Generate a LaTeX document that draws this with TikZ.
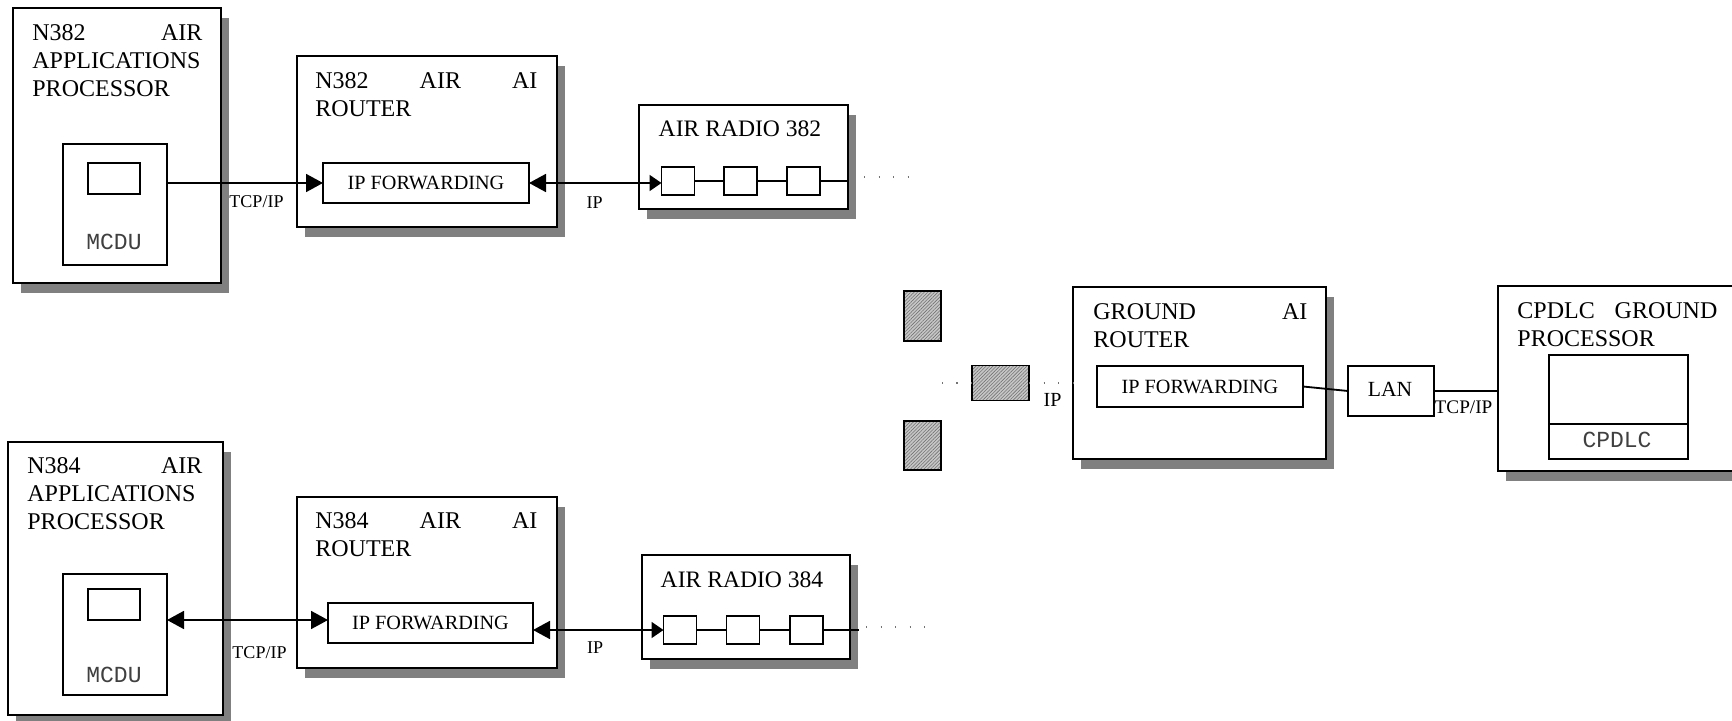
\documentclass[tikz,border=0pt]{standalone}
\usepackage{fontspec}
\setmainfont{Liberation Serif}
\setmonofont{Liberation Mono}
\usetikzlibrary{arrows.meta,shadows,patterns.meta}
\begin{document}
\begin{tikzpicture}[x=0.5pt,y=-0.5pt,
  sh/.style={drop shadow={shadow xshift=4pt,shadow yshift=-5pt,fill=black!50,opacity=1}},
  box/.style={draw,line width=1.1pt,fill=white,rectangle,inner sep=0pt,outer sep=0pt},
  sbox/.style={box,line width=0.9pt},
  hatch/.style={draw,line width=0.9pt,rectangle,inner sep=0pt,outer sep=0pt,
     preaction={fill=black!22},pattern={Lines[angle=45,distance=1.2pt,line width=0.3pt]},pattern color=black!55},
  title/.style={anchor=north west,inner sep=0pt,align=left,font=\fontsize{12}{14}\selectfont},
  ctitle/.style={inner sep=0pt,font=\fontsize{11.8}{14}\selectfont},
  fwd/.style={inner sep=0pt,font=\fontsize{10.1}{12}\selectfont},
  lbl/.style={inner sep=0pt,font=\fontsize{9}{10}\selectfont},
  mono/.style={inner sep=0pt,font=\fontsize{11.5}{13}\ttfamily,text=black!75},
  conn/.style={line width=0.9pt},
  arr/.style={-{Triangle[length=8.5pt,width=9pt]}},
  barr/.style={{Triangle[length=8.5pt,width=9pt]}-{Triangle[length=8.5pt,width=9pt]}},
  rarr/.style={{Triangle[length=8.5pt,width=9pt]}-{Triangle[length=6pt,width=8pt]}},
  dots/.style={draw=black!55,line width=0.7pt,dash pattern=on 0.7pt off 6.55pt}
]
\useasboundingbox (0,0) rectangle (1732,721);

% ---------- big boxes with shadows ----------
\node[box,sh,minimum width=104pt,minimum height=137.5pt] (aap1) at (117,145.5) {};
\node[box,sh,minimum width=130pt,minimum height=85.5pt] (r1) at (427,141.5) {};
\node[box,sh,minimum width=104.5pt,minimum height=52pt] (rad1) at (743.5,157) {};
\node[box,sh,minimum width=107.5pt,minimum height=136.5pt] (aap2) at (115.5,578.5) {};
\node[box,sh,minimum width=130pt,minimum height=85.5pt] (r2) at (427,582.5) {};
\node[box,sh,minimum width=104pt,minimum height=52pt] (rad2) at (746,607) {};
\node[box,sh,minimum width=126.5pt,minimum height=86pt] (gr) at (1199.5,373) {};
\node[box,sh,minimum width=123.5pt,minimum height=92.5pt] (cp) at (1621.5,378.5) {};

% ---------- inner boxes ----------
\node[sbox,minimum width=52pt,minimum height=60.5pt] (mcdu1) at (115,204.5) {};
\node[sbox,minimum width=26pt,minimum height=15.5pt] (scr1) at (114,178.5) {};
\node[sbox,minimum width=103pt,minimum height=20pt] (fw1) at (426,183) {};
\node[sbox,minimum width=16.5pt,minimum height=14pt] (c11) at (678,181) {};
\node[sbox,minimum width=16.5pt,minimum height=14pt] (c12) at (740.5,181) {};
\node[sbox,minimum width=16.5pt,minimum height=14pt] (c13) at (803.5,181) {};

\node[sbox,minimum width=52pt,minimum height=60.5pt] (mcdu2) at (115,634.5) {};
\node[sbox,minimum width=26pt,minimum height=15.5pt] (scr2) at (114,604.5) {};
\node[sbox,minimum width=102.5pt,minimum height=20pt] (fw2) at (430.5,623) {};
\node[sbox,minimum width=16.5pt,minimum height=14pt] (c21) at (680,630) {};
\node[sbox,minimum width=16.5pt,minimum height=14pt] (c22) at (743,630) {};
\node[sbox,minimum width=16.5pt,minimum height=14pt] (c23) at (806.5,630) {};

\node[hatch,minimum width=18.5pt,minimum height=25pt] (h1) at (922.5,316) {};
\node[hatch,minimum width=28.5pt,minimum height=17.5pt] (h2) at (1000.5,383) {};
\node[hatch,minimum width=18.5pt,minimum height=24.5pt] (h3) at (922.5,445.5) {};

\node[sbox,minimum width=103pt,minimum height=20.5pt] (fw3) at (1200,386.5) {};
\node[sbox,minimum width=43pt,minimum height=25pt] (lan) at (1391,391) {};
\node[sbox,minimum width=69.5pt,minimum height=52pt] (cpin) at (1618.5,407) {};
\draw[line width=0.9pt] (cpin.west |- 0,424) -- (cpin.east |- 0,424);

% ---------- titles ----------
\node[title,text width=85pt] (t1) at (32,24) {N382\hfill AIR\\APPLICATIONS\\PROCESSOR};
\node[title,text width=111pt] (t2) at (315,72) {N382\hfill AIR\hfill AI\\ROUTER};
\node[title,text width=87.5pt] (t3) at (27,457) {N384\hfill AIR\\APPLICATIONS\\PROCESSOR};
\node[title,text width=111pt] (t4) at (315,512) {N384\hfill AIR\hfill AI\\ROUTER};
\node[title,text width=107pt] (t5) at (1093,303) {GROUND\hfill AI\\ROUTER};
\node[title,text width=100pt] (t6) at (1517,302) {CPDLC\hfill GROUND\\PROCESSOR};
\node[ctitle] (t7) at (740,129) {AIR RADIO 382};
\node[ctitle] (t8) at (742,580) {AIR RADIO 384};

\node[fwd] at (fw1) {IP FORWARDING};
\node[fwd] at (fw2) {IP FORWARDING};
\node[fwd] at (fw3) {IP FORWARDING};
\node[inner sep=0pt,font=\fontsize{10.8}{12}\selectfont] at (1390,389) {LAN};
\node[mono] (m1) at (114,242) {MCDU};
\node[mono] (m2) at (114,675) {MCDU};
\node[mono] (m3) at (1617,440) {CPDLC};

% ---------- connectors ----------
\draw[conn,arr] (mcdu1.east |- fw1.west) -- (fw1.west);
\draw[conn,rarr] (fw1.east) -- (fw1.east -| c11.west);
\draw[conn] (c11.east) -- (c12.west);
\draw[conn] (c12.east) -- (c13.west);
\draw[conn] (c13.east) -- (c13.east -| rad1.east);
\coordinate (d1s) at (864,177);
\coordinate (d1e) at (912,177);
\draw[dots] (d1s) -- (d1e);

\draw[conn,barr] (mcdu2.east |- 0,620) -- (fw2.west |- 0,620);
\draw[conn,rarr] (fw2.east |- c21.west) -- (c21.west);
\draw[conn] (c21.east) -- (c22.west);
\draw[conn] (c22.east) -- (c23.west);
\coordinate (r2end) at (859,630);
\draw[conn] (c23.east) -- (r2end);
\coordinate (d2s) at (866,627);
\coordinate (d2e) at (926,627);
\draw[dots] (d2s) -- (d2e);

\draw[dots] (h2.west) -- ++(-36,0);
\draw[dots] (h2.east) -- (h2.east -| gr.west);
\draw[conn] (fw3.east) -- (lan.west);
\draw[conn] (lan.east) -- (lan.east -| cp.west);

% ---------- labels ----------
\node[lbl] (l1) at (256.5,202) {TCP/IP};
\node[lbl] (l2) at (594.5,203) {IP};
\node[lbl] (l3) at (259.5,653) {TCP/IP};
\node[lbl] (l4) at (595,648) {IP};
\node[lbl,font=\fontsize{10}{11}\selectfont] (l5) at (1052.5,400) {IP};
\node[lbl,font=\fontsize{9.6}{11}\selectfont] (l6) at (1463.5,407) {TCP/IP};
\end{tikzpicture}
\end{document}
